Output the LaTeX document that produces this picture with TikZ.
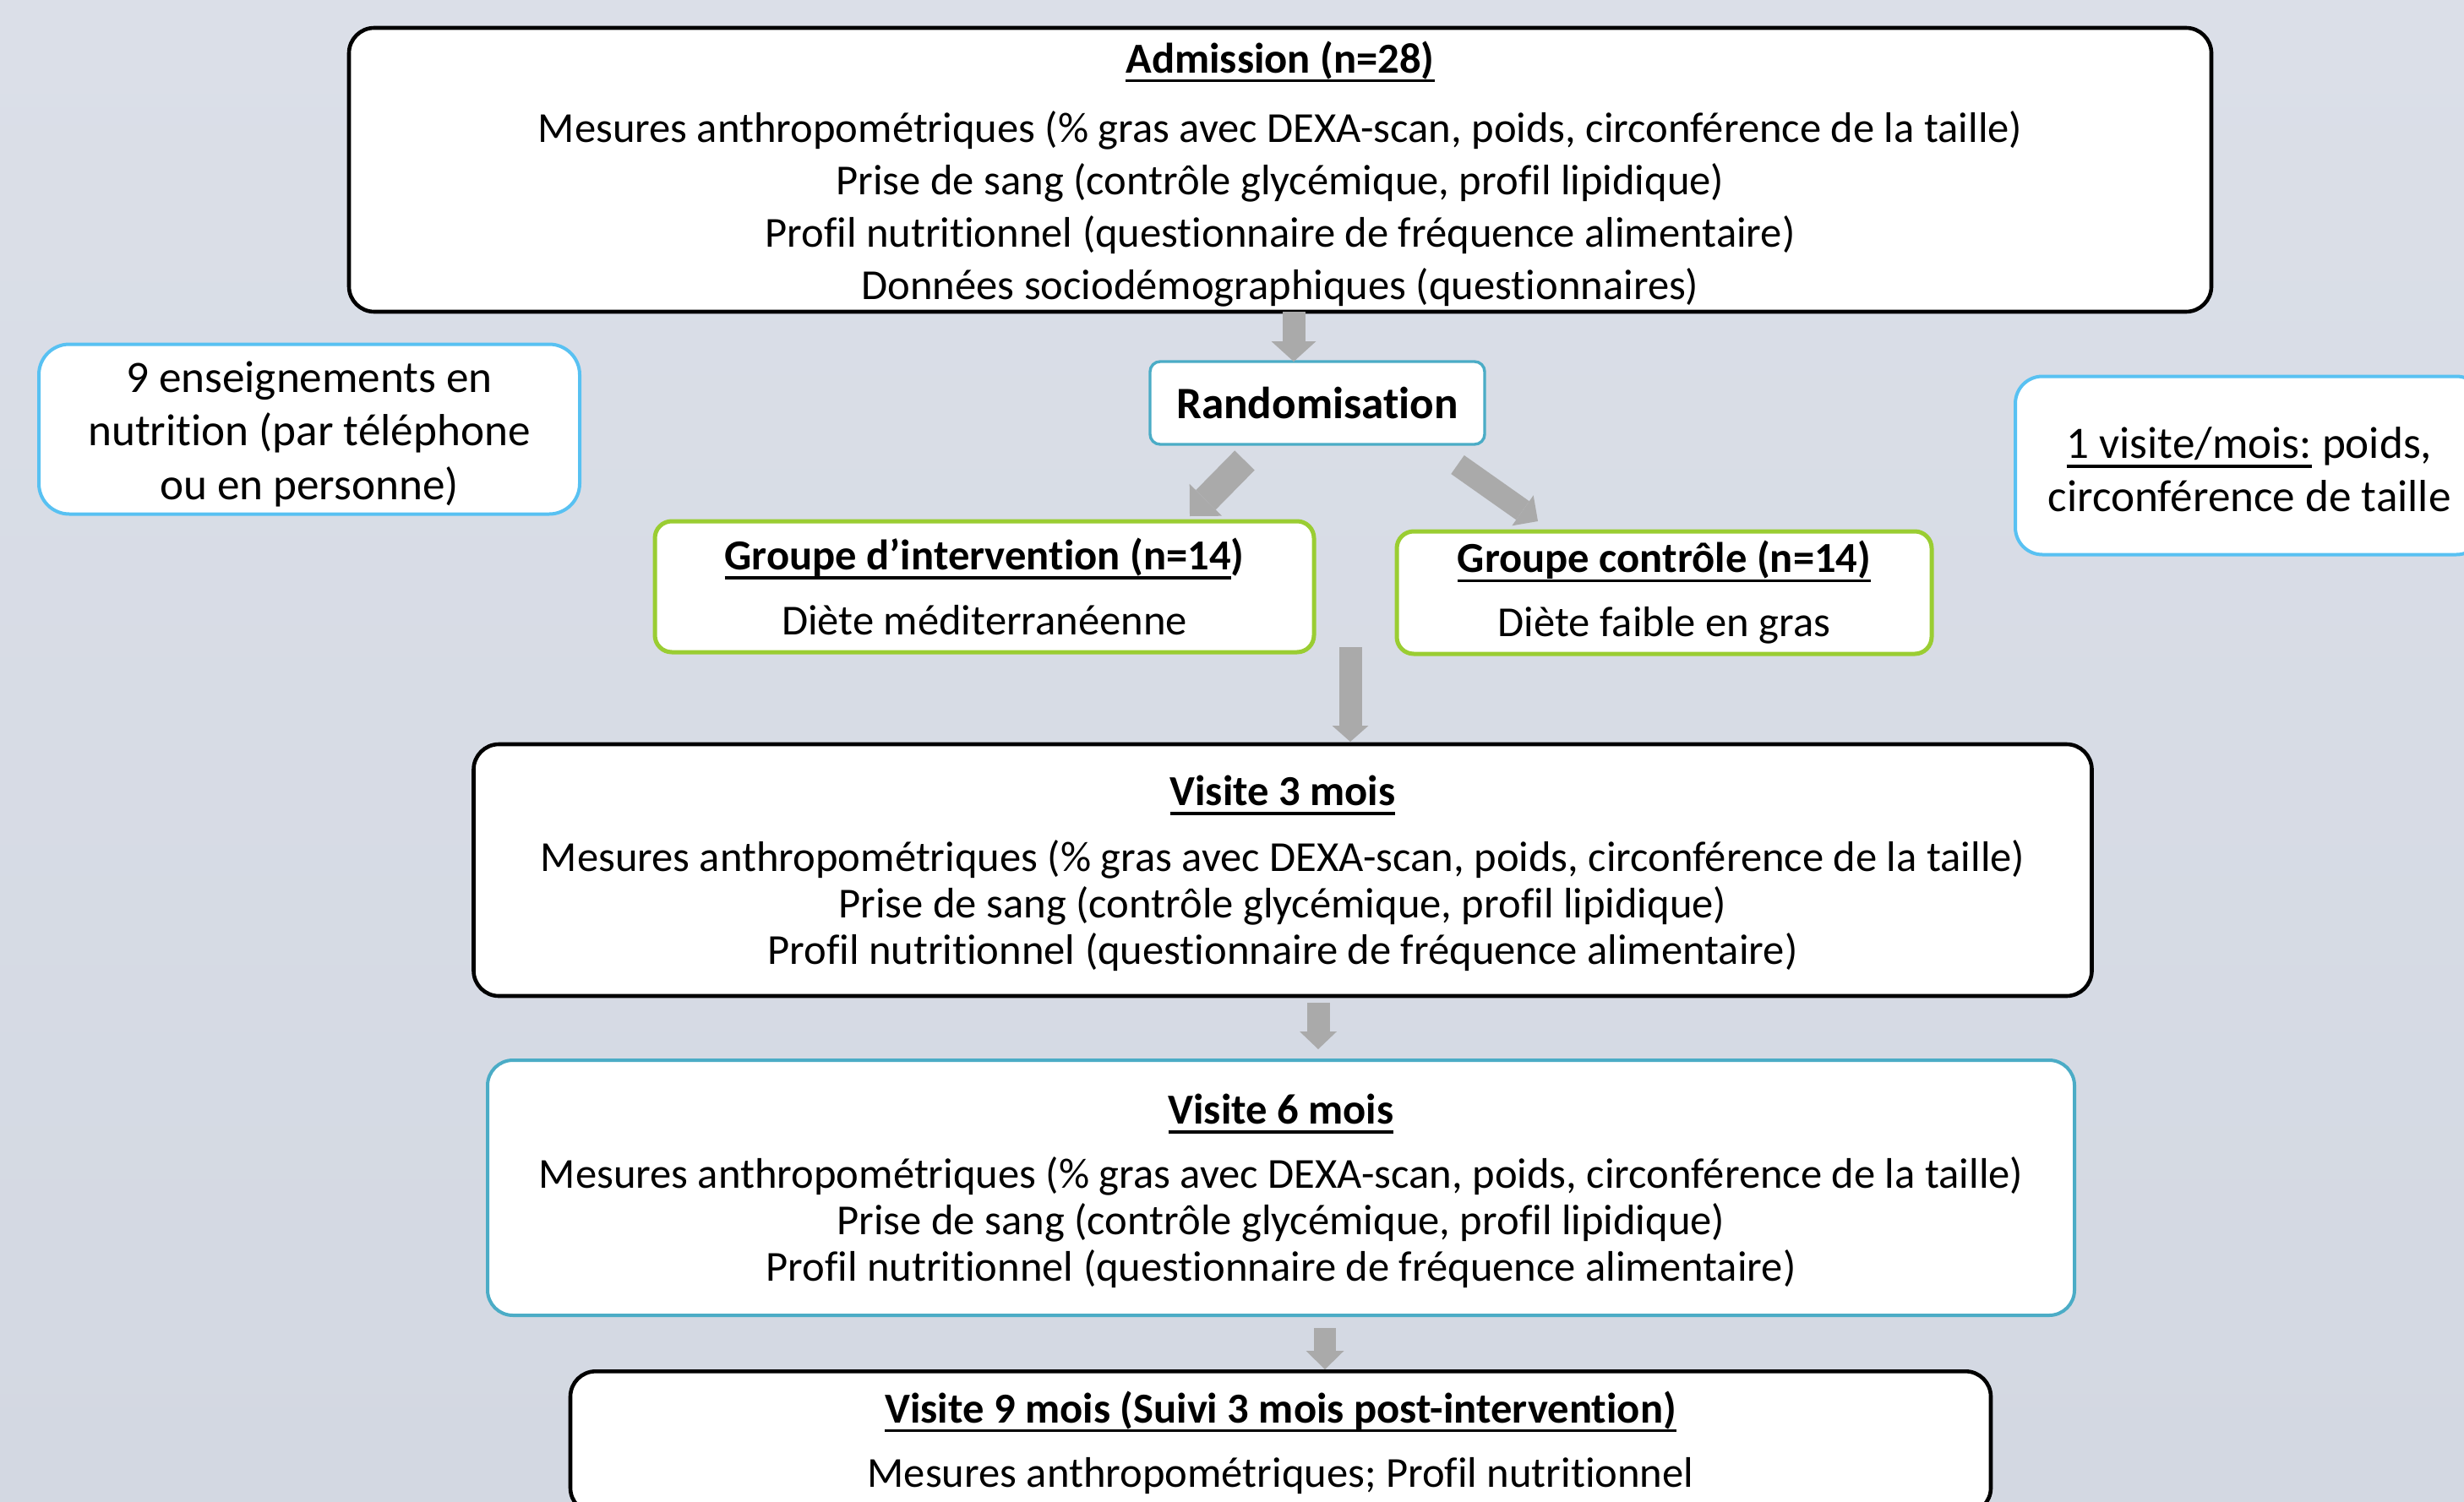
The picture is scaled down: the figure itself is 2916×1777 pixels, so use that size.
\documentclass[tikz,border=0pt]{standalone}
\usepackage{fontspec}
\setmainfont{Carlito}[Ligatures=NoCommon]
\usetikzlibrary{arrows.meta}
\definecolor{bgtop}{RGB}{219,223,232}
\definecolor{bgbot}{RGB}{211,216,226}
\definecolor{skyb}{RGB}{88,193,242}
\definecolor{tealb}{RGB}{75,172,198}
\definecolor{greenb}{RGB}{154,205,50}
\definecolor{arrgray}{RGB}{170,170,170}
\newcommand\ulx[1]{\leavevmode\setbox0=\hbox{#1}\rlap{\rule[-0.22em]{\wd0}{0.07em}}\box0\relax}
\newcommand\fsz[1]{\fontsize{25.3pt}{#1}\selectfont}
\newcommand\fsl[1]{\fontsize{26.6pt}{#1}\selectfont}
\newcommand\tops[1]{\rule{0pt}{#1}}
\tikzset{
  box/.style={draw, fill=white, align=center, inner sep=0pt},
  blackbox/.style={box, draw=black, line width=2.3pt, rounded corners=15pt},
  skybox/.style={box, draw=skyb, line width=2pt, rounded corners=18pt},
  tealbox/.style={box, draw=tealb, line width=2pt, rounded corners=15pt},
  greenbox/.style={box, draw=greenb, line width=2.5pt, rounded corners=10pt},
  blockarr/.style={draw=arrgray, line width=#1, line cap=butt},
}
\begin{document}
\begin{tikzpicture}[x=0.5pt,y=-0.5pt]
\shade[top color=bgtop, bottom color=bgbot] (0,0) rectangle (2916,1777);
\useasboundingbox (0,0) rectangle (2916,1777);

\node[blackbox, minimum width=1102pt, minimum height=168pt, font=\fsz{31pt}] (adm) at (1515,201)
 {\tops{23.5pt}\ulx{\textbf{Admission (n=28)}}\\[10pt]
  Mesures anthropométriques (\% gras avec DEXA-scan, poids, circonférence de la taille)\\
  Prise de sang (contrôle glycémique, profil lipidique)\\
  Profil nutritionnel (questionnaire de fréquence alimentaire)\\
  Données sociodémographiques (questionnaires)};

\node[skybox, minimum width=320pt, minimum height=100.5pt, font=\fsl{31.75pt}] (ens) at (366,508)
 {\tops{24pt}9 enseignements en\\ nutrition (par téléphone\\ ou en personne)};

\node[box, draw=tealb, line width=1.7pt, rounded corners=6pt, minimum width=198pt, minimum height=49pt, font=\fsl{28pt}\bfseries] (rand) at (1559,477)
 {Randomisation};

\node[skybox, rounded corners=16pt, minimum width=277pt, minimum height=105.5pt, font=\fsl{31.5pt}] (vis) at (2662,551)
 {\tops{22.7pt}\ulx{1 visite/mois:} poids,\\ circonférence de taille};

\node[greenbox, minimum width=390pt, minimum height=77.5pt, font=\fsz{38.5pt}] (int) at (1165,694.5)
 {\ulx{\textbf{Groupe d’intervention (n=14}}\textbf{)}\\ Diète méditerranéenne};

\node[greenbox, minimum width=316.5pt, minimum height=72.5pt, font=\fsz{38pt}] (ctl) at (1969.5,701.5)
 {\ulx{\textbf{Groupe contrôle (n=14)}}\\ Diète faible en gras};

\node[blackbox, minimum width=957.5pt, minimum height=149pt, font=\fsz{27.5pt}] (v3) at (1518,1030)
 {\tops{21.5pt}\ulx{\textbf{Visite 3 mois}}\\[11.5pt]
  Mesures anthropométriques (\% gras avec DEXA-scan, poids, circonférence de la taille)\\
  Prise de sang (contrôle glycémique, profil lipidique)\\
  Profil nutritionnel (questionnaire de fréquence alimentaire)};

\node[tealbox, minimum width=939pt, minimum height=151pt, font=\fsz{27.5pt}] (v6) at (1516,1406)
 {\tops{21.5pt}\ulx{\textbf{Visite 6 mois}}\\[10.5pt]
  Mesures anthropométriques (\% gras avec DEXA-scan, poids, circonférence de la taille)\\
  Prise de sang (contrôle glycémique, profil lipidique)\\
  Profil nutritionnel (questionnaire de fréquence alimentaire)};

\node[blackbox, anchor=north, minimum width=840.5pt, minimum height=84pt, font=\fsz{38pt}] (v9) at (1515.5,1621)
 {\ulx{\textbf{Visite 9 mois (Suivi 3 mois post-intervention)}}\\
  Mesures anthropométriques; Profil nutritionnel};

% arrow end points
\coordinate (a1s) at (1531,369);  \coordinate (a1e) at (1531,428);
\coordinate (a2s) at (1473,545);  \coordinate (a2e) at (1408,611);
\coordinate (a3s) at (1725,550);  \coordinate (a3e) at (1820,617);
\coordinate (a4s) at (1598,766);  \coordinate (a4e) at (1598,878);
\coordinate (a5s) at (1560,1187); \coordinate (a5e) at (1560,1242);
\coordinate (a6s) at (1568,1572); \coordinate (a6e) at (1568,1621);

\draw[blockarr=13.5pt, -{Triangle[width=26.5pt,length=12pt,line width=0pt,fill=arrgray]}] (a1s) -- (a1e);
\draw[blockarr=16.5pt, -{Triangle[width=27pt,length=13.5pt,line width=0pt,fill=arrgray]}] (a2s) -- (a2e);
\draw[blockarr=13.5pt, -{Triangle[width=22pt,length=11pt,line width=0pt,fill=arrgray]}] (a3s) -- (a3e);
\draw[blockarr=13.5pt, -{Triangle[width=21.5pt,length=9.5pt,line width=0pt,fill=arrgray]}] (a4s) -- (a4e);
\draw[blockarr=13.5pt, -{Triangle[width=22pt,length=10.5pt,line width=0pt,fill=arrgray]}] (a5s) -- (a5e);
\draw[blockarr=13pt, -{Triangle[width=22.5pt,length=11pt,line width=0pt,fill=arrgray]}] (a6s) -- (a6e);
\end{tikzpicture}
\end{document}
